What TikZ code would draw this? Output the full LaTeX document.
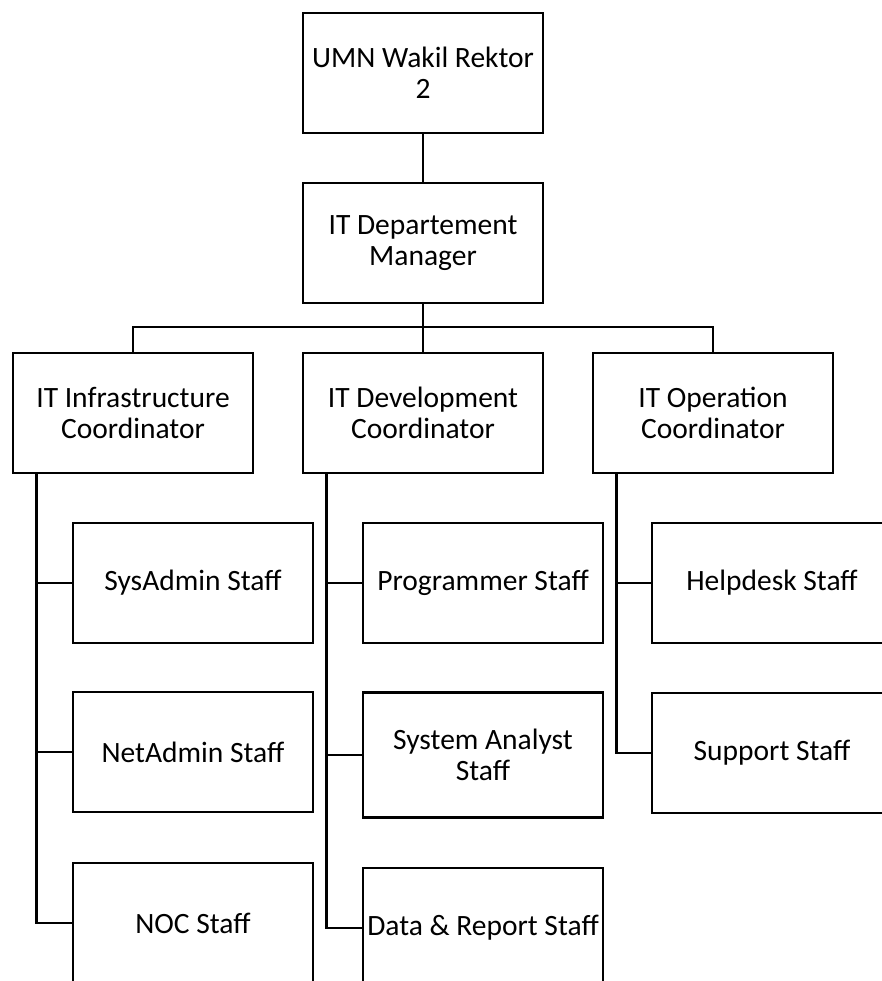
\documentclass[tikz,border=0pt]{standalone}
\usepackage{fontspec}
\setmainfont{Carlito}
\usetikzlibrary{positioning}
\tikzstyle{unit}=[draw, line width=2.6pt, minimum width=240pt, minimum height=120pt, inner sep=0pt, align=center, font=\fontsize{29.5}{31}\selectfont]

\begin{document}
\begin{tikzpicture}[x=1pt, y=-1pt, line width=2.6pt]
\useasboundingbox (0, 0) rectangle (882, 981);
\clip (0, 0) rectangle (882, 981);
\draw (423, 73) node [unit] (wr) {UMN Wakil Rektor\\2};
\draw (423, 243) node [unit] (mgr) {IT Departement\\Manager};
\draw (133, 413) node [unit] (infra) {IT Infrastructure\\Coordinator};
\draw (423, 413) node [unit] (dev) {IT Development\\Coordinator};
\draw (713, 413) node [unit] (ops) {IT Operation\\Coordinator};
\draw (193, 583) node [unit] (sysadm) {SysAdmin Staff};
\draw (193, 752) node [unit] (netadm) {NetAdmin Staff};
\draw (193, 923) node [unit] (noc) {NOC Staff};
\draw (483, 583) node [unit] (prog) {Programmer Staff};
\draw (483, 755) node [unit, minimum height=125pt] (sa) {System Analyst\\Staff};
\draw (483, 928) node [unit] (data) {Data \& Report Staff};
\draw (772, 583) node [unit] (help) {Helpdesk Staff};
\draw (772, 753) node [unit] (supp) {Support Staff};
\coordinate (bus) at (423, 327);
\coordinate (t1) at ([xshift=25pt]infra.south west);
\coordinate (t2) at ([xshift=25pt]dev.south west);
\coordinate (t3) at ([xshift=25pt]ops.south west);
\draw (wr) -- (mgr);
\draw (mgr) -- (bus);
\draw (infra.north) |- (bus) -| (ops.north);
\draw (bus) -- (dev);
\draw (t1) |- (noc.west);
\draw (sysadm.west) -- (sysadm.west -| t1);
\draw (netadm.west) -- (netadm.west -| t1);
\draw (t2) |- (data.west);
\draw (prog.west) -- (prog.west -| t2);
\draw (sa.west) -- (sa.west -| t2);
\draw (t3) |- (supp.west);
\draw (help.west) -- (help.west -| t3);
\end{tikzpicture}
\end{document}
